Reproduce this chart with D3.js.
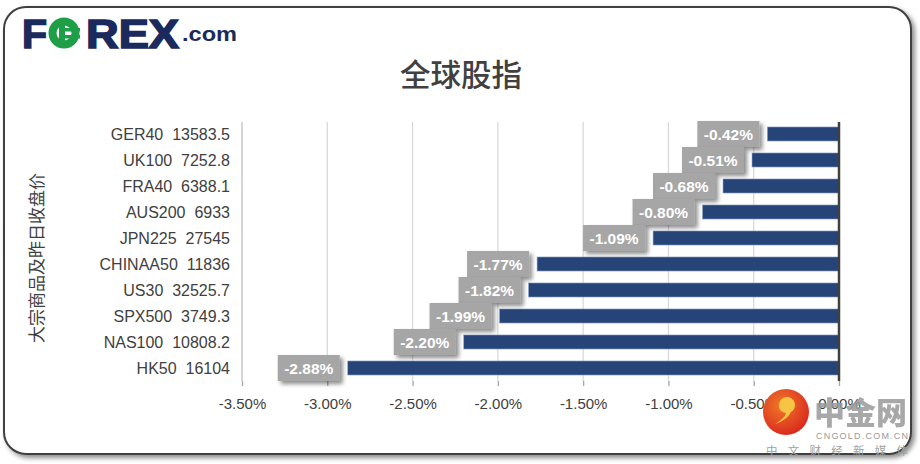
<!DOCTYPE html>
<html>
<head>
<meta charset="utf-8">
<script src="https://cdn.jsdelivr.net/npm/d3@7"></script>
<style>
  html, body { margin: 0; padding: 0; background: #fff; }
  svg text { font-family: "Liberation Sans", Arial, sans-serif; }
</style>
</head>
<body>
<svg id="chart" width="920" height="464"></svg>
<script>
// 指数名称
const categories = ["GER40", "UK100", "FRA40", "AUS200", "JPN225", "CHINAA50", "US30", "SPX500", "NAS100", "HK50"];
// 昨日收盘价
const closes = ["13583.5", "7252.8", "6388.1", "6933", "27545", "11836", "32525.7", "3749.3", "10808.2", "16104"];
// 涨跌幅 (%)
const changes = [-0.42, -0.51, -0.68, -0.80, -1.09, -1.77, -1.82, -1.99, -2.20, -2.88];
// 横轴刻度
const ticks = [-3.5, -3.0, -2.5, -2.0, -1.5, -1.0, -0.5, 0.0];

const fmtPct = d3.formatLocale({ decimal: ".", thousands: ",", grouping: [3], currency: ["", ""], minus: "-" }).format(".2f");

const svg = d3.select("#chart");
const defs = svg.append("defs");

/**
 * 阴影滤镜
 */
function addShadow(id, dx, dy, sd, op) {
  defs.append("filter").attr("id", id)
    .attr("x", "-20%").attr("y", "-20%").attr("width", "150%").attr("height", "160%")
    .append("feDropShadow")
    .attr("dx", dx).attr("dy", dy).attr("stdDeviation", sd)
    .attr("flood-color", "#000").attr("flood-opacity", op);
}
addShadow("frameShadow", 3, 3, 2.5, 0.45);
addShadow("boxShadow", 3, 3, 2, 0.45);

// 外框
svg.append("rect")
  .attr("x", 4).attr("y", 7).attr("width", 907).attr("height", 447)
  .attr("rx", 22)
  .attr("fill", "#fff").attr("stroke", "#3f3f3f").attr("stroke-width", 2)
  .attr("filter", "url(#frameShadow)");

/**
 * FOREX.com 标志
 */
function drawLogo() {
  const navy = "#1b2a5c", green = "#1f9e48";
  const g = svg.append("g");
  const style = (t) => t.attr("font-weight", 700).attr("font-size", 41)
    .attr("stroke", navy).attr("stroke-width", 1.6).attr("fill", navy);
  g.append("text").call(style).attr("x", 22).attr("y", 48).text("F");
  // 绿色 O
  g.append("circle").attr("cx", 64).attr("cy", 33).attr("r", 11.5)
    .attr("fill", "#fff").attr("stroke", green).attr("stroke-width", 8);
  g.append("rect").attr("x", 59).attr("y", 24).attr("width", 6).attr("height", 18).attr("fill", green);
  g.append("rect").attr("x", 63).attr("y", 28).attr("width", 17).attr("height", 3.5).attr("fill", green);
  g.append("rect").attr("x", 63).attr("y", 35).attr("width", 17).attr("height", 3.5).attr("fill", green);
  g.append("text").call(style).attr("x", 86).attr("y", 48)
    .attr("textLength", 93).attr("lengthAdjust", "spacingAndGlyphs").text("REX");
  g.append("text").attr("x", 182).attr("y", 41)
    .attr("font-weight", 700).attr("font-size", 21).attr("fill", navy)
    .attr("textLength", 55).attr("lengthAdjust", "spacingAndGlyphs").text(".com");
}
drawLogo();

// 标题
svg.append("text")
  .attr("x", 461).attr("y", 86)
  .attr("text-anchor", "middle")
  .style("font-family", "'Noto Sans CJK SC', sans-serif")
  .attr("font-size", 30.5).attr("font-weight", 500)
  .attr("fill", "#404040")
  .text("全球股指");

// 纵轴标题
svg.append("text")
  .attr("transform", "translate(43,258) rotate(-90)")
  .attr("text-anchor", "middle")
  .style("font-family", "'Noto Sans CJK SC', sans-serif")
  .attr("font-size", 17)
  .attr("fill", "#404040")
  .text("大宗商品及昨日收盘价");

// 比例尺
const x = d3.scaleLinear().domain([-3.5, 0]).range([242, 839]);
const y = d3.scaleBand().domain(categories).range([121, 381]).paddingInner(0.46).paddingOuter(0.23);
const bottom = 381;

// 网格线
const gGrid = svg.append("g");
gGrid.selectAll("line.grid")
  .data(ticks.slice(0, -1))
  .join("line")
  .attr("x1", (d) => x(d)).attr("x2", (d) => x(d))
  .attr("y1", 122).attr("y2", bottom)
  .attr("stroke", (d, i) => (i === 0 ? "#bfbfbf" : "#d9d9d9"))
  .attr("stroke-width", 1.3);

// 横轴
const xAxis = svg.append("g")
  .attr("transform", `translate(0,${bottom})`)
  .call(d3.axisBottom(x).tickValues(ticks).tickSize(5).tickPadding(12)
    .tickFormat((d) => fmtPct(d) + "%"));
xAxis.select(".domain").remove();
xAxis.selectAll(".tick line").attr("stroke", "#a6a6a6").attr("stroke-width", 1.3);
xAxis.selectAll(".tick text")
  .attr("font-size", 15).attr("fill", "#404040")
  .style("font-family", "'Liberation Sans', Arial, sans-serif");

// 纵轴标签
svg.append("g").selectAll("text.cat")
  .data(categories)
  .join("text")
  .attr("class", "cat")
  .attr("x", 230)
  .attr("y", (d) => y(d) + y.bandwidth() / 2)
  .attr("dy", "0.36em")
  .attr("text-anchor", "end")
  .attr("font-size", 16)
  .attr("fill", "#404040")
  .style("white-space", "pre")
  .text((d, i) => `${d}  ${closes[i]}`);

// 柱形
svg.append("g").selectAll("rect.bar")
  .data(changes)
  .join("rect")
  .attr("class", "bar")
  .attr("x", (d) => x(d))
  .attr("y", (d, i) => y(categories[i]))
  .attr("width", (d) => x(0) - x(d))
  .attr("height", y.bandwidth())
  .attr("fill", "#264478")
  .attr("stroke", "#8ea2c6").attr("stroke-width", 0.6);

// 零线
svg.append("line")
  .attr("x1", x(0)).attr("x2", x(0))
  .attr("y1", 122).attr("y2", bottom)
  .attr("stroke", "#404040").attr("stroke-width", 2.5);

// 数据标签
const gLabels = svg.append("g");
changes.forEach((d, i) => {
  const cy = y(categories[i]) + y.bandwidth() / 2;
  const right = x(d) - 8;
  const w = 62;
  const g = gLabels.append("g");
  g.append("rect")
    .attr("x", right - w).attr("y", cy - 13)
    .attr("width", w).attr("height", 26)
    .attr("fill", "#a6a6a6")
    .attr("filter", "url(#boxShadow)");
  g.append("text")
    .attr("x", right - w / 2).attr("y", cy)
    .attr("dy", "0.36em")
    .attr("text-anchor", "middle")
    .attr("font-size", 15.5).attr("font-weight", 700)
    .attr("fill", "#fff")
    .text(fmtPct(d) + "%");
});

/**
 * 中金网 水印
 */
function drawWatermark() {
  const g = svg.append("g");
  const grad = defs.append("radialGradient").attr("id", "logoGrad").attr("cx", "40%").attr("cy", "35%").attr("r", "70%");
  grad.append("stop").attr("offset", "0%").attr("stop-color", "#f07a2a");
  grad.append("stop").attr("offset", "100%").attr("stop-color", "#d9261c");
  g.append("circle").attr("cx", 786).attr("cy", 412).attr("r", 23).attr("fill", "url(#logoGrad)");
  g.append("path")
    .attr("d", "M779,405 a8,8 0 1,1 12,7 q-4,8 -16,12 q10,-6 11,-11 a7,7 0 0,1 -7,-8 z")
    .attr("fill", "#f6c544");
  g.append("text").attr("x", 814).attr("y", 424)
    .style("font-family", "'Noto Sans CJK SC', sans-serif")
    .attr("font-size", 31).attr("font-weight", 900)
    .attr("fill", "#9a9a9a").attr("opacity", 0.85)
    .text("中金网");
  g.append("text").attr("x", 816).attr("y", 439)
    .attr("font-size", 9).attr("fill", "#9a9a9a")
    .attr("textLength", 92).attr("lengthAdjust", "spacing")
    .text("CNGOLD.COM.CN");
  g.append("text").attr("x", 766).attr("y", 455)
    .style("font-family", "'Noto Sans CJK SC', sans-serif")
    .attr("font-size", 11.5).attr("fill", "#a0a0a0")
    .attr("textLength", 142).attr("lengthAdjust", "spacing")
    .text("中文财经新媒体");
}
drawWatermark();
</script>
</body>
</html>
